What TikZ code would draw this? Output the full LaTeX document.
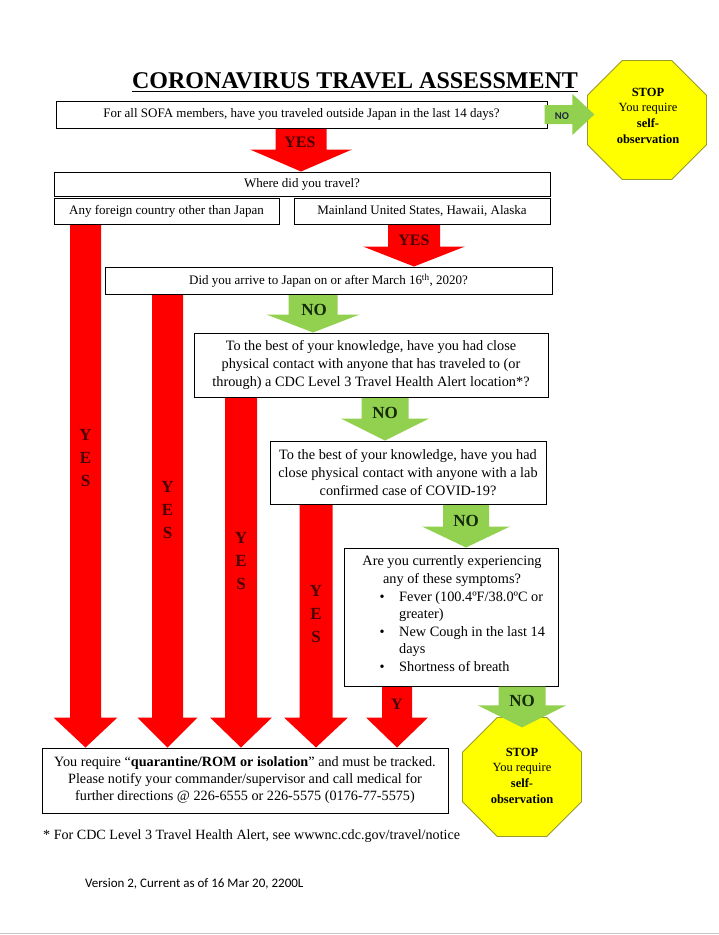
\documentclass[tikz,border=0pt]{standalone}
\usepackage{fontspec}
\setmainfont{Liberation Serif}
\newfontfamily\calibrifont{Carlito}
\usetikzlibrary{calc,shapes.geometric}
\pgfdeclarelayer{bg}
\pgfdeclarelayer{arrows}
\pgfsetlayers{bg,arrows,main}
\definecolor{arrred}{HTML}{FF0000}
\definecolor{arrgreen}{HTML}{92D050}
\definecolor{stopyellow}{HTML}{FFFF00}
\definecolor{stopedge}{HTML}{9A9A2A}
\definecolor{redlab}{HTML}{4A0000}
\definecolor{greenlab}{HTML}{14280A}
\definecolor{nolabright}{HTML}{1F2A3A}
% vertical block arrow: style, x centre, from, to, half body, half head, head length
\newcommand{\vblock}[7]{%
  \fill[#1] let \p1=(#3), \p2=(#4) in
    ({#2pt-#5pt},\y1) -- ({#2pt+#5pt},\y1) -- ({#2pt+#5pt},{\y2+#7pt}) --
    ({#2pt+#6pt},{\y2+#7pt}) -- (#2pt,\y2) -- ({#2pt-#6pt},{\y2+#7pt}) --
    ({#2pt-#5pt},{\y2+#7pt}) -- cycle;}
\begin{document}
\begin{tikzpicture}[x=1pt,y=-1pt,
  box/.style={draw=black, line width=1pt, inner sep=0pt, align=center, font=\fontsize{13}{18}\selectfont},
  bigbox/.style={box, font=\fontsize{14.3}{18}\selectfont},
  txt/.style={inner sep=0pt, font=\fontsize{14.3}{18}\selectfont},
  redarr/.style={fill=arrred},
  greenarr/.style={fill=arrgreen},
  stopsign/.style={regular polygon, regular polygon sides=8, minimum size=129pt, fill=stopyellow, draw=stopedge, line width=0.8pt, inner sep=0pt, outer sep=0pt},
  stoptext/.style={align=center, inner sep=0pt, font=\fontsize{12.5}{15.7}\selectfont},
  yeslab/.style={text=redlab, inner sep=0pt, font=\bfseries\fontsize{16}{16}\selectfont},
  vyes/.style={text=redlab, inner sep=0pt, align=center, font=\bfseries\fontsize{17}{23}\selectfont},
  nolab/.style={text=greenlab, inner sep=0pt, font=\bfseries\fontsize{17}{17}\selectfont},
]
\begin{pgfonlayer}{bg}
  \fill[white] (0,0) rectangle (719,935);
\end{pgfonlayer}
\useasboundingbox (0,0) rectangle (719,935);

% title
\node[font=\bfseries\fontsize{24}{24}\selectfont, inner sep=0pt, anchor=base] (title) at (355,88) {CORONAVIRUS TRAVEL ASSESSMENT};
\draw[line width=1.6pt] ($(title.base west)+(0,3.5)$) -- ($(title.base east)+(0,3.5)$);

% boxes
\node[box, minimum width=491pt, minimum height=27pt] (b1) at (301.5,114.5) {For all SOFA members, have you traveled outside Japan in the last 14 days?};
\node[box, minimum width=496pt, minimum height=24pt] (b2) at (302,184) {Where did you travel?};
\node[box, minimum width=225pt, minimum height=26pt] (b3a) at (166.5,211) {Any foreign country other than Japan};
\node[box, minimum width=256pt, minimum height=26pt] (b3b) at (422,211) {Mainland United States, Hawaii, Alaska};
\node[box, minimum width=447pt, minimum height=27pt] (b4) at (328.5,280.5) {Did you arrive to Japan on or after March 16\textsuperscript{th}, 2020?};
\node[bigbox, minimum width=354pt, minimum height=64pt] (b5) at (371,365) {To the best of your knowledge, have you had close\\physical contact with anyone that has traveled to (or\\through) a CDC Level 3 Travel Health Alert location*?};
\node[bigbox, minimum width=276pt, minimum height=63pt] (b6) at (408,472.5) {To the best of your knowledge, have you had\\close physical contact with anyone with a lab\\confirmed case of COVID-19?};
\node[box, minimum width=214pt, minimum height=138pt] (b7) at (451,617) {};
\node[txt, anchor=mid] (q7a) at (452,563) {Are you currently experiencing};
\node[txt, anchor=mid] (q7b) at (452,581) {any of these symptoms?};
\node[txt, anchor=mid] (bu1) at (382,599) {\textbullet};
\node[txt, anchor=mid west] (s1a) at (399,599) {Fever (100.4ºF/38.0ºC or};
\node[txt, anchor=mid west] (s1b) at (399,616) {greater)};
\node[txt, anchor=mid] (bu2) at (382,634) {\textbullet};
\node[txt, anchor=mid west] (s2a) at (399,634) {New Cough in the last 14};
\node[txt, anchor=mid west] (s2b) at (399,651) {days};
\node[txt, anchor=mid] (bu3) at (382,669) {\textbullet};
\node[txt, anchor=mid west] (s3) at (399,669) {Shortness of breath};
\node[box, minimum width=406pt, minimum height=65pt, font=\fontsize{14.2}{17}\selectfont] (b8) at (245,780.5) {You require “\textbf{quarantine/ROM or isolation}” and must be tracked.\\Please notify your commander/supervisor and call medical for\\further directions @ 226-6555 or 226-5575 (0176-77-5575)};

% stop signs
\node[stopsign] (stop1) at (647,120) {};
\node[stoptext] (st1) at (648,115.5) {\textbf{STOP}\\You require\\\textbf{self-}\\\textbf{observation}};
\node[stopsign] (stop2) at (522,777) {};
\node[stoptext] (st2) at (522,775.5) {\textbf{STOP}\\You require\\\textbf{self-}\\\textbf{observation}};
\coordinate (t5) at ($(stop2.north)+(0,10)$);

% arrows behind boxes
\begin{pgfonlayer}{arrows}
  \vblock{redarr}{301}{b1.south}{b2.north}{25.5}{51}{22}
  \vblock{redarr}{414}{b3b.south}{b4.north}{26}{51}{20}
  \vblock{greenarr}{313}{b4.south}{b5.north}{24.5}{46.5}{18}
  \vblock{greenarr}{385}{b5.south}{b6.north}{23.5}{44}{22}
  \vblock{greenarr}{466}{b6.south}{b7.north}{23}{44}{21}
  \vblock{redarr}{85.5}{b3a.south}{b8.north}{15.5}{32}{30}
  \vblock{redarr}{167.5}{b4.south}{b8.north}{15.5}{30}{30}
  \vblock{redarr}{241}{b5.south}{b8.north}{16}{31}{30}
  \vblock{redarr}{316}{b6.south}{b8.north}{16.5}{32}{30}
  \vblock{redarr}{397}{b7.south}{b8.north}{15}{31}{30}
\end{pgfonlayer}
% arrows over the stop signs
\vblock{greenarr}{522}{b7.south}{t5}{23.5}{44}{22}
\fill[greenarr] let \p1=(b1.east), \p2=(stop1.west) in
  (\x1-3pt,\y1+9.5pt) -- (\x2-15pt,\y1+9.5pt) -- (\x2-15pt,\y1+20.5pt) --
  (\x2+7pt,\y1) -- (\x2-15pt,\y1-20.5pt) -- (\x2-15pt,\y1-9.5pt) --
  (\x1-3pt,\y1-9.5pt) -- cycle;

% arrow labels
\node[yeslab] (l1) at (300,142) {YES};
\node[yeslab] (l2) at (414,240) {YES};
\node[nolab] (n1) at (314,310) {NO};
\node[nolab] (n2) at (385,413) {NO};
\node[nolab] (n3) at (466,521) {NO};
\node[nolab] (n4) at (522,701) {NO};
\node[inner sep=0pt, text=nolabright, font=\calibrifont\bfseries\fontsize{10.5}{10.5}\selectfont] (n0) at (562,116) {NO};
\node[vyes] (v1) at (85.5,458) {Y\\E\\S};
\node[vyes] (v2) at (167.5,510) {Y\\E\\S};
\node[vyes] (v3) at (241,561) {Y\\E\\S};
\node[vyes] (v4) at (316,614) {Y\\E\\S};
\node[yeslab] (v5) at (397,704) {Y};

% footnotes
\node[txt, anchor=mid west, font=\fontsize{14.1}{16}\selectfont] (fn) at (43,837) {* For CDC Level 3 Travel Health Alert, see wwwnc.cdc.gov/travel/notice};
\node[inner sep=0pt, anchor=mid west, font=\calibrifont\fontsize{13}{15}\selectfont] (ver) at (85,885) {Version 2, Current as of 16 Mar 20, 2200L};
\draw[gray!45, line width=1pt] (0,933) -- (719,933);
\end{tikzpicture}
\end{document}
